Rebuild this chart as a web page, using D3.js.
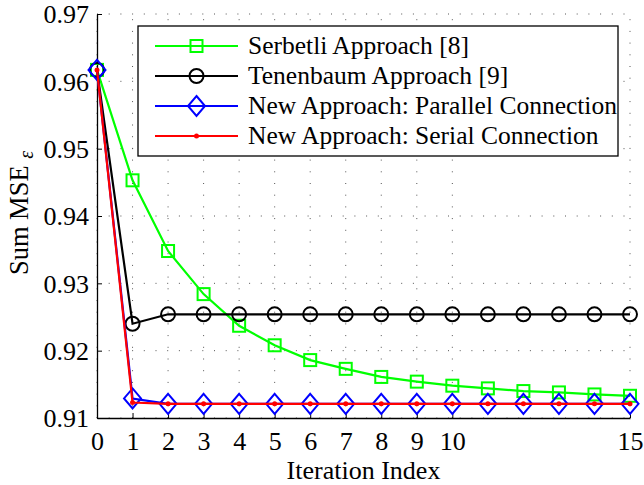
<!DOCTYPE html>
<html>
<head>
<meta charset="utf-8">
<script src="https://cdn.jsdelivr.net/npm/d3@7"></script>
<style>
  html, body { margin: 0; padding: 0; background: #fff; }
</style>
</head>
<body>
<svg id="chart" width="644" height="485"></svg>
<script>
// ---- data ----
const iterations = [0, 1, 2, 3, 4, 5, 6, 7, 8, 9, 10, 11, 12, 13, 14, 15];
const serbetli   = [0.9617, 0.9453, 0.9348, 0.9284, 0.9237, 0.9208, 0.9186, 0.9173, 0.9161, 0.9154, 0.9148, 0.9144, 0.9140, 0.9138, 0.9135, 0.9133];
const tenenbaum  = [0.9617, 0.9240, 0.9254, 0.9254, 0.9254, 0.9254, 0.9254, 0.9254, 0.9254, 0.9254, 0.9254, 0.9254, 0.9254, 0.9254, 0.9254, 0.9254];
const parallel   = [0.9617, 0.9129, 0.9121, 0.9121, 0.9121, 0.9121, 0.9121, 0.9121, 0.9121, 0.9121, 0.9121, 0.9121, 0.9121, 0.9121, 0.9121, 0.9121];
const serial     = [0.9617, 0.9123, 0.9121, 0.9121, 0.9121, 0.9121, 0.9121, 0.9121, 0.9121, 0.9121, 0.9121, 0.9121, 0.9121, 0.9121, 0.9121, 0.9121];
const xTicks = [0, 1, 2, 3, 4, 5, 6, 7, 8, 9, 10, 15];
const yTicks = [0.91, 0.92, 0.93, 0.94, 0.95, 0.96, 0.97];
const seriesNames = ["Serbetli Approach [8]", "Tenenbaum Approach [9]", "New Approach: Parallel Connection", "New Approach: Serial Connection"];
const seriesColors = ["#00ff00", "#000000", "#0000ff", "#ff0000"];
const seriesMarkers = ["square", "circle", "diamond", "dot"];
const xLabel = "Iteration Index";
const yLabel = "Sum MSE";
const yLabelSym = "ε";

const seriesData = [serbetli, tenenbaum, parallel, serial];

// ---- layout ----
const FONT = "Liberation Serif";
const svg = d3.select("#chart");
const L = 97, R = 630, T = 14, B = 418;
const x = d3.scaleLinear().domain([0, 15]).range([L, R]);
const y = d3.scaleLinear().domain([0.91, 0.97]).range([B, T]);

// grid
const grid = svg.append("g");
grid.selectAll("line.gx").data(xTicks).join("line")
  .attr("x1", d => x(d)).attr("x2", d => x(d)).attr("y1", B).attr("y2", T)
  .attr("stroke", "#555").attr("stroke-width", 1).attr("stroke-dasharray", "1,10.7");
grid.selectAll("line.gy").data(yTicks).join("line")
  .attr("x1", L).attr("x2", R).attr("y1", d => y(d)).attr("y2", d => y(d))
  .attr("stroke", "#555").attr("stroke-width", 1).attr("stroke-dasharray", "1,10.7");

// axes
const xAxis = d3.axisBottom(x).tickValues(xTicks).tickFormat(d3.format("d")).tickSizeInner(-5).tickSizeOuter(0).tickPadding(14);
const yAxis = d3.axisLeft(y).tickValues(yTicks).tickFormat(d3.format(".2f")).tickSizeInner(-5).tickSizeOuter(0).tickPadding(8);
const gx = svg.append("g").attr("transform", `translate(0,${B})`).call(xAxis);
const gy = svg.append("g").attr("transform", `translate(${L},0)`).call(yAxis);
[gx, gy].forEach(g => {
  g.selectAll("path.domain").attr("stroke", "#000").attr("stroke-width", 1.3);
  g.selectAll(".tick line").attr("stroke", "#000").attr("stroke-width", 1);
  g.selectAll(".tick text").style("font-family", FONT).style("font-size", "26px").attr("fill", "#000");
});
gy.selectAll(".tick text").attr("dy", "0.34em");

// axis labels
svg.append("text").attr("x", (L + R) / 2).attr("y", 479)
  .attr("text-anchor", "middle").style("font-family", FONT).style("font-size", "26px").attr("fill", "#000").text(xLabel);
const yl = svg.append("text").attr("transform", `translate(28,213) rotate(-90)`)
  .attr("text-anchor", "middle").style("font-family", FONT).style("font-size", "26.5px").attr("fill", "#000");
yl.append("tspan").text(yLabel + " ");
yl.append("tspan").style("font-style", "italic").style("font-size", "20px").attr("dy", 5).text(yLabelSym);

// marker drawing
function drawMarker(g, type, color) {
  if (type === "square") {
    g.append("rect").attr("x", -6).attr("y", -6).attr("width", 12).attr("height", 12)
      .attr("fill", "none").attr("stroke", color).attr("stroke-width", 2);
  } else if (type === "circle") {
    g.append("circle").attr("r", 7).attr("fill", "none").attr("stroke", color).attr("stroke-width", 2);
  } else if (type === "diamond") {
    g.append("path").attr("d", "M0,-10L8.5,0L0,10L-8.5,0Z")
      .attr("fill", "none").attr("stroke", color).attr("stroke-width", 2);
  } else if (type === "dot") {
    g.append("circle").attr("r", 2.5).attr("fill", color);
  }
}

// series
const line = d3.line().x((d, i) => x(iterations[i])).y(d => y(d));
seriesData.forEach((vals, si) => {
  const g = svg.append("g");
  g.append("path").datum(vals).attr("d", line)
    .attr("fill", "none").attr("stroke", seriesColors[si]).attr("stroke-width", 2.2);
  vals.forEach((v, i) => {
    const m = g.append("g").attr("transform", `translate(${x(iterations[i])},${y(v)})`);
    drawMarker(m, seriesMarkers[si], seriesColors[si]);
  });
});

// legend
const lg = svg.append("g");
lg.append("rect").attr("x", 138).attr("y", 26).attr("width", 480).attr("height", 130)
  .attr("fill", "#fff").attr("stroke", "#000").attr("stroke-width", 1.3);
seriesNames.forEach((name, i) => {
  const cy = 46 + i * 30;
  lg.append("line").attr("x1", 155).attr("x2", 238).attr("y1", cy).attr("y2", cy)
    .attr("stroke", seriesColors[i]).attr("stroke-width", 2.2);
  const m = lg.append("g").attr("transform", `translate(196.5,${cy})`);
  drawMarker(m, seriesMarkers[i], seriesColors[i]);
  lg.append("text").attr("x", 248).attr("y", cy + 7.5)
    .style("font-family", FONT).style("font-size", "25.5px").attr("fill", "#000").text(name);
});
</script>
</body>
</html>
